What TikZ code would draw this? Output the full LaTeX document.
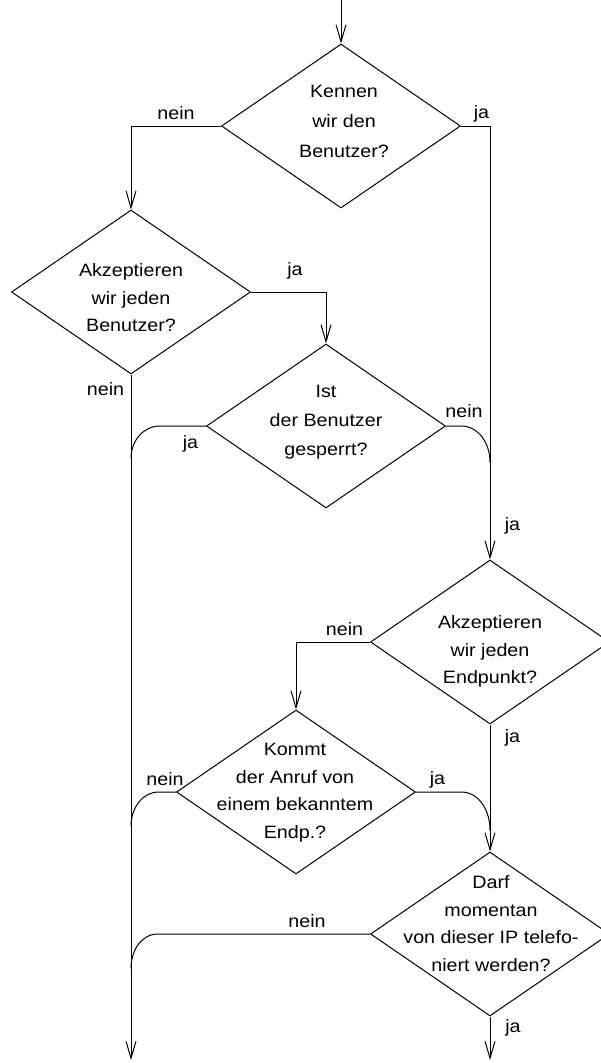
\documentclass[tikz,border=0pt]{standalone}
\usepackage{fontspec}
\setmainfont{Liberation Sans}[FakeStretch=1.1]
\usetikzlibrary{shapes.geometric,arrows.meta}
\begin{document}
\begin{tikzpicture}[x=1pt,y=-1pt,
  line width=1pt,
  decision/.style={draw,shape=diamond,minimum width=239pt,minimum height=164pt,inner sep=0pt},
  qtext/.style={align=center,inner sep=0pt,anchor=north,font=\fontsize{17.9}{27.5}\selectfont},
  lbl/.style={inner sep=0pt,anchor=base,font=\fontsize{17.9}{21}\selectfont},
  flow/.style={-{Straight Barb[length=17pt,width=10pt]}}]
  \clip (0,0) rectangle (601,1063);
  \fill[white] (0,0) rectangle (601,1063);

  % decision diamonds
  \node[decision] (d1) at (341,126) {};
  \node[decision] (d2) at (131,292) {};
  \node[decision] (d3) at (326,426) {};
  \node[decision] (d4) at (490,642) {};
  \node[decision] (d5) at (296,792) {};
  \node[decision] (d6) at (490,934) {};

  % questions
  \node[qtext,font=\fontsize{17.9}{30}\selectfont] (t1) at (344,82.7) {\rule{0pt}{14pt}Kennen\\wir den\\Benutzer?};
  \node[qtext] (t2) at (131,262) {\rule{0pt}{14pt}Akzeptieren\\wir jeden\\Benutzer?};
  \node[qtext,font=\fontsize{17.9}{29}\selectfont] (t3) at (326,382.7) {\rule{0pt}{14pt}Ist\\der Benutzer\\gesperrt?};
  \node[qtext] (t4) at (490,614) {\rule{0pt}{14pt}Akzeptieren\\wir jeden\\Endpunkt?};
  \node[qtext] (t5) at (295,741) {\rule{0pt}{14pt}Kommt\\der Anruf von\\einem bekanntem\\Endp.?};
  \node[qtext] (t6) at (491,874) {\rule{0pt}{14pt}Darf\\momentan\\von dieser IP telefo-\\niert werden?};

  % open ends
  \coordinate (start) at (341,0);
  \coordinate (endL) at (131,1060);
  \coordinate (endR) at (490,1060);
  % junctions where branches join the vertical lines
  \coordinate (jL1) at (131,458);
  \coordinate (jL2) at (131,826);
  \coordinate (jL3) at (131,968);
  \coordinate (jR1) at (490,462);
  \coordinate (jR2) at (490,830);

  % connectors
  \draw[flow] (start) -- (d1.north);
  \draw[flow] (d1.west) -| (d2.north);
  \draw[flow] (d1.east) -| (d4.north);
  \draw[flow] (d2.east) -| (d3.north);
  \draw[flow] (d2.south) -- (endL);
  \draw (d3.west) -- ++(-46,0) to[out=180,in=90] (jL1);
  \draw (d3.east) -- ++(15,0) to[out=0,in=90] (jR1);
  \draw[flow] (d4.west) -| (d5.north);
  \draw[flow] (d4.south) -- (d6.north);
  \draw (d5.west) -- ++(-17,0) to[out=180,in=90] (jL2);
  \draw (d5.east) -- ++(45,0) to[out=0,in=90] (jR2);
  \draw (d6.west) -- ++(-212,0) to[out=180,in=90] (jL3);
  \draw[flow] (d6.south) -- (endR);

  % branch labels
  \node[lbl] (l1n) at (176,119) {nein};
  \node[lbl] (l1j) at (481.5,118) {ja};
  \node[lbl] (l2j) at (295,275) {ja};
  \node[lbl] (l2n) at (105.5,395) {nein};
  \node[lbl] (l3j) at (190.5,448) {ja};
  \node[lbl] (l3n) at (464,417) {nein};
  \node[lbl] (l3m) at (512.5,530) {ja};
  \node[lbl] (l4n) at (344.5,635) {nein};
  \node[lbl] (l4j) at (512.5,742) {ja};
  \node[lbl] (l5n) at (165,785) {nein};
  \node[lbl] (l5j) at (437.5,784) {ja};
  \node[lbl] (l6n) at (307,927) {nein};
  \node[lbl] (l6j) at (513,1032) {ja};
\end{tikzpicture}
\end{document}
